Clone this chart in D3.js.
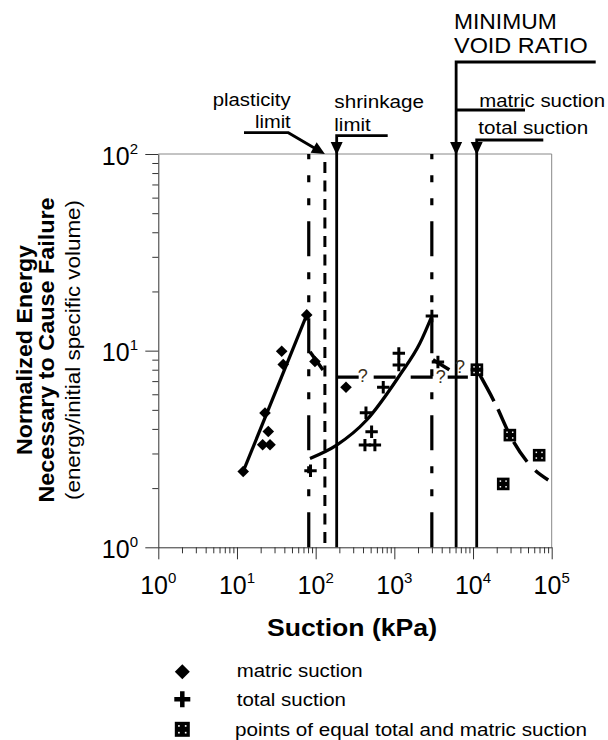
<!DOCTYPE html>
<html><head><meta charset="utf-8">
<script src="https://cdn.jsdelivr.net/npm/d3@7"></script>
<style>
body{margin:0;background:#fff;}
svg{display:block;}
text{font-family:"Liberation Sans",Arial,sans-serif;fill:#000;}
</style>
</head><body>
<svg id="c" width="608" height="740"></svg>
<script>
// ---------------- data ----------------
const xDecades = [1, 10, 100, 1000, 10000, 100000];
const xTickExp = ["0", "1", "2", "3", "4", "5"];
const yDecades = [1, 10, 100];
const yTickExp = ["0", "1", "2"];

// matric suction points (diamonds)
const matricX = [12, 21.2, 22.7, 25.0, 26.3, 37.0, 38.7, 77, 98, 243];
const matricY = [2.43, 3.32, 4.82, 3.88, 3.32, 9.93, 8.5, 15.2, 8.8, 6.51];
// total suction points (crosses)
const totalX = [86, 423, 436, 514, 566, 723, 1140, 1140, 3000, 3580, 11200];
const totalY = [2.45, 3.31, 4.83, 3.87, 3.31, 6.51, 9.69, 8.45, 15.0, 8.75, 8.0];
// points of equal total and matric suction (squares)
const equalX = [11200, 29400, 69300, 24200];
const equalY = [8.0, 3.72, 2.94, 2.10];

// fitted curves
const matricFitX = [12, 77];
const matricFitY = [2.43, 15.2];
const totalFitX = [84.7, 185, 445, 1175, 2110, 3000];
const totalFitY = [2.83, 3.31, 4.44, 7.52, 10.9, 15.0];
const drop1X = [84.7, 124];
const drop1Y = [9.87, 7.98];
const drop2X = [3100, 5000];
const drop2Y = [9.0, 8.0];
const plateauX = [185, 8600];
const plateauY = [7.34, 7.34];
const declineX = [11200, 20100, 29400, 52800, 90300];
const declineY = [8.0, 5.17, 3.72, 2.62, 2.2];
// question marks on the plateau
const qX = [396, 3880, 6820];
const qY = [6.95, 6.82, 7.67];

// reference lines (kPa)
const dashDotLines = [81.7, 2995];
const plasticLimit = 131;
const shrinkLimit = 185;
const minVoidMatric = 6100;
const minVoidTotal = 11140;

// ---------------- chart ----------------
const svg = d3.select("#c");
const xs = d3.scaleLog().domain([1, 1e5]).range([158.3, 551.7]);
const ys = d3.scaleLog().domain([1, 100]).range([547.3, 154]);
const X0 = xs.range()[0], X1 = xs.range()[1], Y0 = ys.range()[0], Y1 = ys.range()[1];

function txt(x, y, s, size, len, weight, anchor) {
  const t = svg.append("text").attr("x", x).attr("y", y)
    .style("font-size", size + "px").style("font-weight", weight || "normal")
    .attr("text-anchor", anchor || "start").text(s);
  if (len) t.attr("textLength", len).attr("lengthAdjust", "spacingAndGlyphs");
  return t;
}

// frame top/right
svg.append("path").attr("d", `M${X0},${Y1}H${X1}V${Y0}`)
  .attr("fill", "none").attr("stroke", "#888").attr("stroke-width", 1);

// minor tick values
const xMinor = [];
xDecades.slice(0, -1).forEach(d => { for (let k = 2; k < 10; k++) xMinor.push(d * k); });
const yMinor = [];
yDecades.slice(0, -1).forEach(d => { for (let k = 2; k < 10; k++) yMinor.push(d * k); });

const gx = svg.append("g").attr("transform", `translate(0,${Y0})`)
  .call(d3.axisBottom(xs).tickValues(xDecades).tickSize(12).tickSizeOuter(0).tickFormat(""));
const gxm = svg.append("g").attr("transform", `translate(0,${Y0})`)
  .call(d3.axisBottom(xs).tickValues(xMinor).tickSize(6).tickSizeOuter(0).tickFormat(""));
const gy = svg.append("g").attr("transform", `translate(${X0},0)`)
  .call(d3.axisLeft(ys).tickValues(yDecades).tickSize(13).tickSizeOuter(0).tickFormat(""));
const gym = svg.append("g").attr("transform", `translate(${X0},0)`)
  .call(d3.axisLeft(ys).tickValues(yMinor).tickSize(6).tickSizeOuter(0).tickFormat(""));
[gx, gxm, gy, gym].forEach(g => {
  g.selectAll("path,line").attr("stroke", "#333").attr("stroke-width", 1);
});
gxm.select(".domain").remove();
gym.select(".domain").remove();

// tick labels with superscripts
xDecades.forEach((v, i) => {
  const t = svg.append("text").attr("x", xs(v)).attr("y", 594)
    .attr("text-anchor", "middle").style("font-size", "25px");
  t.append("tspan").text("10");
  t.append("tspan").attr("dy", -11).style("font-size", "15px").text(xTickExp[i]);
});
yDecades.forEach((v, i) => {
  const t = svg.append("text").attr("x", 138).attr("y", ys(v) + 10.5)
    .attr("text-anchor", "end").style("font-size", "25px");
  t.append("tspan").text("10");
  t.append("tspan").attr("dy", -11).style("font-size", "15px").text(yTickExp[i]);
});

// axis titles
txt(352, 636, "Suction (kPa)", 23, 170, "bold", "middle");
const yt = [
  { s: "Normalized Energy", x: 32, size: 22, w: "bold", len: 210 },
  { s: "Necessary to Cause Failure", x: 54, size: 22, w: "bold", len: 305 },
  { s: "(energy/initial specific volume)", x: 80, size: 21, w: "normal", len: 300 }
];
yt.forEach(l => {
  svg.append("text").attr("transform", `translate(${l.x},350) rotate(-90)`)
    .attr("text-anchor", "middle").style("font-size", l.size + "px")
    .style("font-weight", l.w)
    .attr("textLength", l.len).attr("lengthAdjust", "spacingAndGlyphs")
    .text(l.s);
});

// vertical reference lines
dashDotLines.forEach(v => {
  svg.append("line").attr("x1", xs(v)).attr("x2", xs(v)).attr("y1", Y0).attr("y2", Y1)
    .attr("stroke", "#000").attr("stroke-width", 3.2)
    .attr("stroke-dasharray", "35,16,7,16,7,16");
});
svg.append("line").attr("x1", xs(plasticLimit)).attr("x2", xs(plasticLimit))
  .attr("y1", Y1 + 8).attr("y2", Y0)
  .attr("stroke", "#000").attr("stroke-width", 3).attr("stroke-dasharray", "11,7.5");

// annotation leaders + solid lines
const lw = 2.8;
function arrowDown(x, tipY) {
  svg.append("path").attr("d", `M${x},${tipY}L${x - 6},${tipY - 13}L${x + 6},${tipY - 13}Z`).attr("fill", "#000");
}
// plasticity limit
const pTipX = xs(plasticLimit), pTipY = Y1;
svg.append("path").attr("d", `M244,132.7H288.3L${pTipX - 8},${pTipY - 4.5}`)
  .attr("fill", "none").attr("stroke", "#000").attr("stroke-width", lw);
(function () {
  const dx = pTipX - 288.3, dy = pTipY - 132.7, L = Math.hypot(dx, dy);
  const ux = dx / L, uy = dy / L, px = -uy, py = ux;
  const bx = pTipX - ux * 13, by = pTipY - uy * 13;
  svg.append("path").attr("d", `M${pTipX},${pTipY}L${bx + px * 6},${by + py * 6}L${bx - px * 6},${by - py * 6}Z`).attr("fill", "#000");
})();
// shrinkage limit
svg.append("path").attr("d", `M387.7,135.7H${xs(shrinkLimit)}V${Y0}`)
  .attr("fill", "none").attr("stroke", "#000").attr("stroke-width", lw);
arrowDown(xs(shrinkLimit), Y1 + 1);
// minimum void ratio - matric
svg.append("path").attr("d", `M595.7,62H${xs(minVoidMatric)}V${Y0}M${xs(minVoidMatric)},110H525`)
  .attr("fill", "none").attr("stroke", "#000").attr("stroke-width", lw);
arrowDown(xs(minVoidMatric), Y1 + 1);
// minimum void ratio - total
svg.append("path").attr("d", `M543.3,140H${xs(minVoidTotal)}V${Y0}`)
  .attr("fill", "none").attr("stroke", "#000").attr("stroke-width", lw);
arrowDown(xs(minVoidTotal), Y1 + 1);

// annotation text
txt(212.7, 106, "plasticity", 17.5, 78);
txt(255, 128, "limit", 17.5, 35.7);
txt(334.3, 108, "shrinkage", 17.5, 89.7);
txt(334.3, 130.5, "limit", 17.5, 36.4);
txt(454, 29.3, "MINIMUM", 22, 102.7);
txt(454, 53.3, "VOID RATIO", 22, 133.7);
txt(479.3, 106.7, "matric suction", 17.5, 125.7);
txt(478.3, 134, "total suction", 17.5, 110);

// curves
const line = d3.line().x(d => xs(d[0])).y(d => ys(d[1]));
const zip = (a, b) => a.map((v, i) => [v, b[i]]);
svg.append("path").attr("d", line(zip(matricFitX, matricFitY)))
  .attr("fill", "none").attr("stroke", "#000").attr("stroke-width", 3.2);
svg.append("path").attr("d", line.curve(d3.curveMonotoneX)(zip(totalFitX, totalFitY)))
  .attr("fill", "none").attr("stroke", "#000").attr("stroke-width", 3.2);
line.curve(d3.curveLinear);
svg.append("path").attr("d", line(zip(drop1X, drop1Y)))
  .attr("fill", "none").attr("stroke", "#000").attr("stroke-width", 3.5);
svg.append("path").attr("d", line(zip(drop2X, drop2Y)))
  .attr("fill", "none").attr("stroke", "#000").attr("stroke-width", 3.5);
svg.append("path").attr("d", line(zip(plateauX, plateauY)))
  .attr("fill", "none").attr("stroke", "#000").attr("stroke-width", 3.2)
  .attr("stroke-dasharray", "22,15");
svg.append("path").attr("d", d3.line().x(d => xs(d[0])).y(d => ys(d[1])).curve(d3.curveMonotoneX)(zip(declineX, declineY)))
  .attr("fill", "none").attr("stroke", "#000").attr("stroke-width", 3.5)
  .attr("stroke-dasharray", "36,9,24,12,24,12,24,12");

// question marks
qX.forEach((v, i) => {
  svg.append("text").attr("x", xs(v)).attr("y", ys(qY[i])).attr("text-anchor", "middle")
    .style("font-size", "18px").style("fill", "#3a3020").text("?");
});

// markers
function diamond(g, x, y, r) {
  g.append("path").attr("d", `M${x},${y - r}L${x + r},${y}L${x},${y + r}L${x - r},${y}Z`).attr("fill", "#000");
}
function cross(g, x, y, r, w) {
  g.append("path").attr("d", `M${x - r},${y}H${x + r}M${x},${y - r}V${y + r}`)
    .attr("stroke", "#000").attr("stroke-width", w).attr("fill", "none");
}
function equalMark(g, x, y, h) {
  g.append("rect").attr("x", x - h).attr("y", y - h).attr("width", 2 * h).attr("height", 2 * h).attr("fill", "#000");
  const d = h * 0.45, s = Math.max(1.5, h * 0.22);
  [[-1, -1], [1, -1], [-1, 1], [1, 1]].forEach(([a, b]) => {
    g.append("rect").attr("x", x + a * d - s / 2).attr("y", y + b * d - s / 2)
      .attr("width", s).attr("height", s).attr("fill", "#fff");
  });
}
const gm = svg.append("g");
matricX.forEach((v, i) => diamond(gm, xs(v), ys(matricY[i]), 5.8));
totalX.forEach((v, i) => cross(gm, xs(v), ys(totalY[i]), 6.2, 3));
equalX.forEach((v, i) => equalMark(gm, xs(v), ys(equalY[i]), 6.3));

// legend
const gl = svg.append("g");
diamond(gl, 182.3, 671.7, 7.5);
cross(gl, 182.3, 699.3, 8, 4.5);
equalMark(gl, 182.3, 729.3, 7.5);
txt(236.7, 677, "matric suction", 17.5, 126);
txt(236.7, 706, "total suction", 17.5, 109.3);
txt(235, 735.5, "points of equal total and matric suction", 17.5, 352);
</script>
</body></html>
